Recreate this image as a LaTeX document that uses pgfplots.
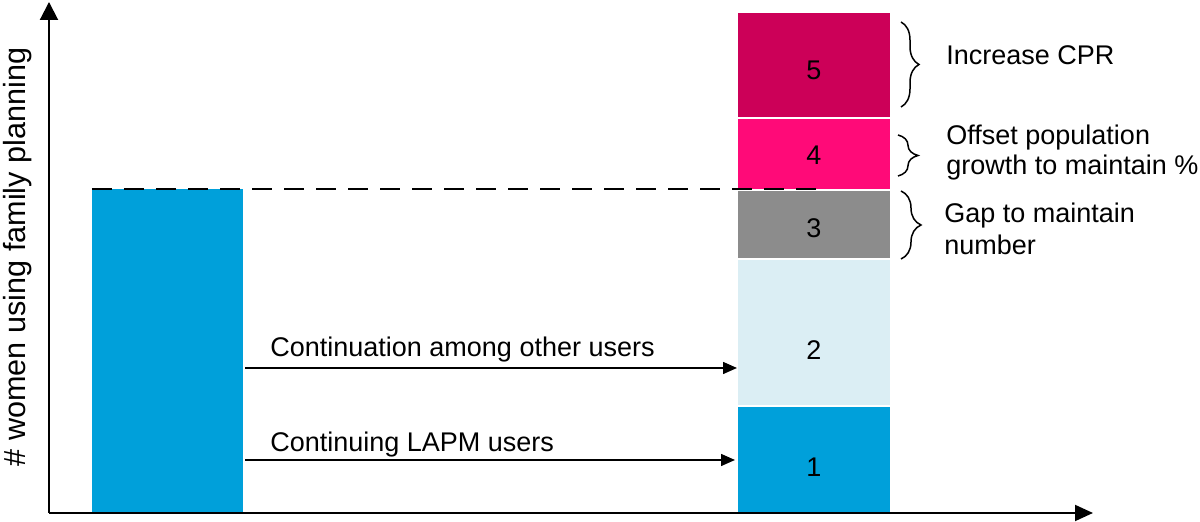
\documentclass[border=0pt]{standalone}
\usepackage{pgfplots}
\pgfplotsset{compat=1.18}
\usepackage{fontspec}
\setmainfont{Liberation Sans}
\usetikzlibrary{arrows.meta,decorations.pathreplacing}

\definecolor{fpblue}{RGB}{0,160,218}
\definecolor{fplight}{RGB}{219,238,244}
\definecolor{fpgray}{RGB}{140,140,140}
\definecolor{fppink}{RGB}{255,10,120}
\definecolor{fpmagenta}{RGB}{204,0,88}

\begin{document}
\begin{tikzpicture}[every node/.style={font=\fontsize{13.5}{16}\selectfont},
    lbl/.style={anchor=base west, inner sep=0pt}]
\begin{axis}[
    x=0.5pt, y=0.5pt,          % one unit = one pixel of the reference
    xmin=49, xmax=1093,
    ymin=0, ymax=511,
    axis lines=left,
    axis on top,
    clip=false,
    xtick=\empty, ytick=\empty,
    axis line style={line width=1pt},
    x axis line style={-{Triangle[length=9pt,width=8pt]}},
    y axis line style={-{Triangle[length=9pt,width=9pt]}},
    ybar, bar shift=0pt,
]
% current users (left bar)
\addplot[fill=fpblue, draw=none, bar width=151] coordinates {(167.5,324)};
% components of the future total, drawn tallest first, white edges split them
\addplot[fill=fpmagenta, draw=white, line width=1pt, bar width=154] coordinates {(814,500.5)};
\addplot[fill=fppink, draw=white, line width=1pt, bar width=154] coordinates {(814,395)};
\addplot[fill=fpgray, draw=white, line width=1pt, bar width=154] coordinates {(814,323)};
\addplot[fill=fplight, draw=white, line width=1pt, bar width=154] coordinates {(814,253.5)};
\addplot[fill=fpblue, draw=white, line width=1pt, bar width=154] coordinates {(814,106.5)};

% dashed reference level
\draw[black, line width=1pt, dash pattern=on 10pt off 6pt] (axis cs:92,324) -- (axis cs:818,324);

% segment numbers
\node at (axis cs:814,443) {5};
\node at (axis cs:814,358) {4};
\node at (axis cs:814,285) {3};
\node at (axis cs:814,163) {2};
\node at (axis cs:814,46) {1};

% flows
\draw[line width=0.75pt, -{Triangle[length=7pt,width=6pt]}] (axis cs:245,145) -- (axis cs:737,145);
\draw[line width=0.75pt, -{Triangle[length=7pt,width=6pt]}] (axis cs:245,53) -- (axis cs:735,53);
\node[lbl] at (axis cs:270,156) {Continuation among other users};
\node[lbl] at (axis cs:270,61) {Continuing LAPM users};

% braces and explanations
\draw[line width=0.75pt, decorate, decoration={brace, amplitude=9pt}] (axis cs:901,491) -- (axis cs:901,406);
\draw[line width=0.75pt, decorate, decoration={brace, amplitude=10pt}] (axis cs:898,378) -- (axis cs:898,337);
\draw[line width=0.75pt, decorate, decoration={brace, amplitude=10pt}] (axis cs:901,322) -- (axis cs:901,254);
\node[lbl] at (axis cs:946,448) {Increase CPR};
\node[lbl] at (axis cs:946,368) {Offset population};
\node[lbl] at (axis cs:946,338) {growth to maintain \%};
\node[lbl] at (axis cs:944,290) {Gap to maintain};
\node[lbl] at (axis cs:944,258) {number};

% axis title
\node[rotate=90, anchor=base, font=\fontsize{15.3}{18}\selectfont] at (axis cs:26,256) {\# women using family planning};

\coordinate (bl) at (axis cs:0,-9);
\coordinate (tr) at (axis cs:1200,513);
\end{axis}
\pgfresetboundingbox
\useasboundingbox (bl) rectangle (tr);
\end{tikzpicture}
\end{document}
